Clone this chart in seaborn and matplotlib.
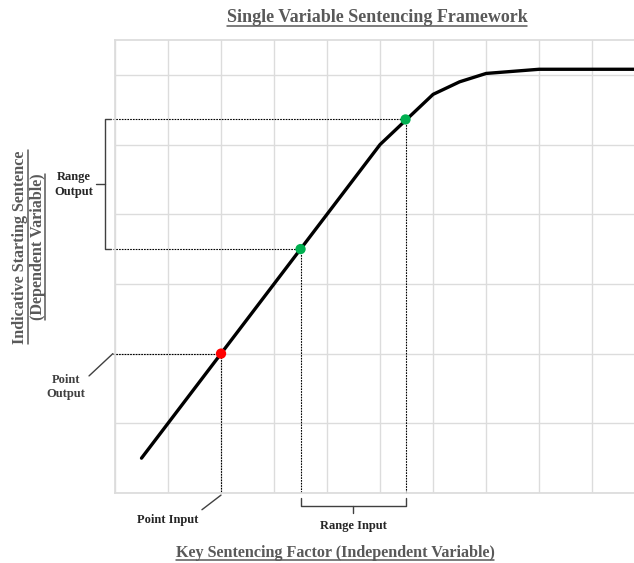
import matplotlib
matplotlib.use("Agg")
import matplotlib.pyplot as plt
import seaborn as sns
import pandas as pd

# curve of the framework (x = key factor, y = indicative sentence)
factor = [0.5, 5.0, 6.0, 6.5, 7.0, 8.0, 9.8]
sentence = [0.5, 5.0, 5.72, 5.9, 6.02, 6.08, 6.08]

# point and range examples
point_x = [2.0]
point_y = [2.0]
range_x = [3.5, 5.48]
range_y = [3.5, 5.36]

title = "Single Variable Sentencing Framework"
xlabel = "Key Sentencing Factor (Independent Variable)"
ylabel = "Indicative Starting Sentence\n(Dependent Variable)"

sns.set_theme(style="white")
plt.rcParams['font.family'] = ['Liberation Serif', 'DejaVu Serif']

fig = plt.figure(figsize=(6.34, 5.63), dpi=100)
ax = fig.add_axes([115 / 634, 70 / 563, 1 - 115 / 634, 453 / 563])

df = pd.DataFrame({"factor": factor, "sentence": sentence})
sns.lineplot(data=df, x="factor", y="sentence", color="black", lw=2.4, ax=ax, zorder=3)

ax.set_xlim(0, 9.79)
ax.set_ylim(0, 6.5)
ax.set_xticks(range(0, 10))
ax.set_yticks(range(0, 7))
ax.grid(True, color="#dcdcdc", lw=1)
ax.tick_params(left=False, bottom=False, labelleft=False, labelbottom=False)
for side in ["top", "left", "bottom"]:
    ax.spines[side].set_color("#dcdcdc")
ax.spines["right"].set_visible(False)

# dotted guide lines
dot = dict(color="black", lw=0.8, ls=(0, (1.5, 1)), clip_on=False, zorder=2)
for px, py in zip(point_x + range_x, point_y + range_y):
    ax.plot([-0.04, px], [py, py], **dot)
    ax.plot([px, px], [py, 0], **dot)

pts = pd.DataFrame({"x": point_x + range_x, "y": point_y + range_y,
                    "kind": ["point"] + ["range"] * len(range_x)})
sns.scatterplot(data=pts, x="x", y="y", hue="kind",
                palette={"point": "#ff0000", "range": "#00b050"},
                s=55, edgecolor="none", legend=False, ax=ax, zorder=4)
ax.set_xlabel("")
ax.set_ylabel("")

solid = dict(color="#404040", lw=1, clip_on=False)
# left brace for range output
bx = -0.19
mid = (range_y[0] + range_y[1]) / 2
ax.plot([-0.08, bx, bx, -0.08], [range_y[1], range_y[1], range_y[0], range_y[0]], **solid)
ax.plot([bx, -0.36], [mid, mid], **solid)
ax.text(-0.77, mid, "Range\nOutput", ha="center", va="center", fontsize=9,
        fontweight="bold", color="#262626", linespacing=1.3)

# bottom brace for range input
by = -0.19
midx = (range_x[0] + range_x[1]) / 2
ax.plot([range_x[0], range_x[0], range_x[1], range_x[1]], [-0.07, by, by, -0.07], **solid)
ax.plot([midx, midx], [by, -0.29], **solid)
ax.text(midx, -0.47, "Range Input", ha="center", va="center", fontsize=9,
        fontweight="bold", color="#262626")

# point leaders
ax.plot([-0.04, -0.49], [point_y[0], 1.68], **solid)
ax.text(-0.92, 1.52, "Point\nOutput", ha="center", va="center", fontsize=9,
        fontweight="bold", color="#404040", linespacing=1.3)
ax.plot([point_x[0], 1.64], [-0.03, -0.24], **solid)
ax.text(1.0, -0.39, "Point Input", ha="center", va="center", fontsize=9,
        fontweight="bold", color="#262626")

# titles with underline
gray = "#595959"
t1 = fig.text(377 / 634, 1 - 18 / 563, title, ha="center", va="center",
              fontsize=13, fontweight="bold", color=gray)
t2 = fig.text(335 / 634, 1 - 553 / 563, xlabel, ha="center", va="center",
              fontsize=11.6, fontweight="bold", color=gray)
t3 = fig.text(29 / 634, 1 - 247 / 563, ylabel, ha="center", va="center",
              fontsize=11.6, fontweight="bold", color=gray, rotation=90,
              linespacing=1.2)

fig.canvas.draw()
r = fig.canvas.get_renderer()
W, H = fig.bbox.width, fig.bbox.height
for t in [t1, t2]:
    bb = t.get_window_extent(r)
    y = (bb.y0 + 1) / H
    fig.add_artist(plt.Line2D([bb.x0 / W, bb.x1 / W], [y, y], color=gray, lw=1.1))

# underline each line of the rotated label
bb = t3.get_window_extent(r)
lines = ylabel.split("\n")
w = bb.width / len(lines)
for i, line in enumerate(lines):
    tmp = fig.text(0, 0, line, fontsize=11.6, fontweight="bold", rotation=90)
    lb = tmp.get_window_extent(r)
    tmp.remove()
    xline = (bb.x0 + w * (i + 1) - 1) / W
    cy = (bb.y0 + bb.y1) / 2
    fig.add_artist(plt.Line2D([xline, xline], [(cy - lb.height / 2) / H, (cy + lb.height / 2) / H],
                              color=gray, lw=1.1))

fig.savefig("out.png", dpi=100)
